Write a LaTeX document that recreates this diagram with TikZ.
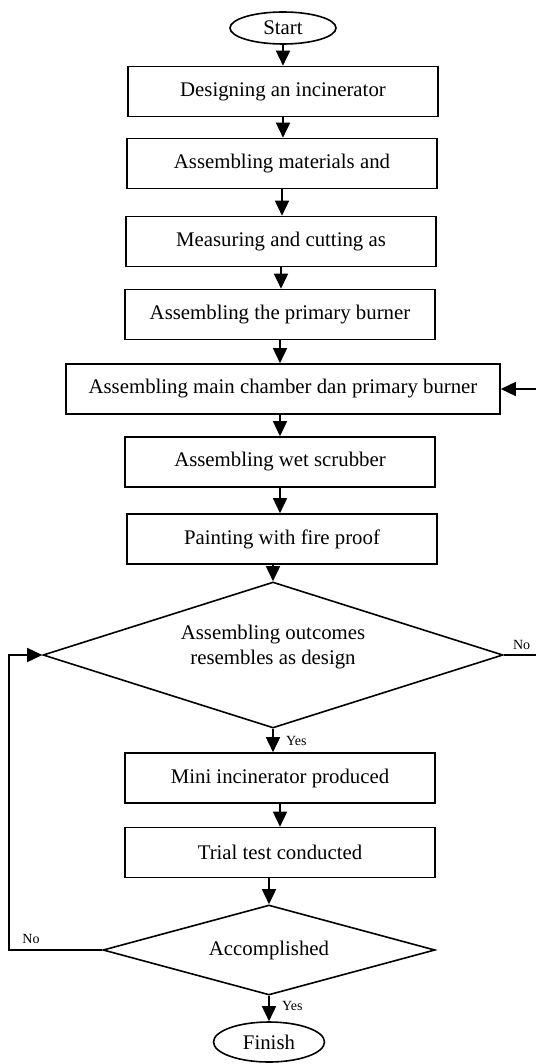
\documentclass[tikz,border=0pt]{standalone}
\usepackage{fontspec}
\setmainfont{Liberation Serif}
\usetikzlibrary{shapes.geometric,arrows.meta}
\begin{document}
\begin{tikzpicture}[x=1pt,y=-1pt,
  txt/.style={font=\fontsize{20.8}{25}\selectfont},
  box/.style={txt,draw,line width=1.6pt,minimum width=310pt,minimum height=50pt,inner sep=0pt},
  term/.style={txt,draw,ellipse,line width=1.6pt,inner sep=0pt},
  dec/.style={draw,diamond,line width=1.6pt,inner sep=0pt},
  arr/.style={line width=1.6pt,-{Triangle[length=15pt,width=14pt]}},
  lab/.style={font=\fontsize{14}{16}\selectfont,inner sep=0pt}]
\useasboundingbox (0,0) rectangle (535,1064);

\node[term,minimum width=106pt,minimum height=32pt] (start) at (283,28) {Start};
\node[box] (b1) at (283,91.5) {Designing an incinerator};
\node[box] (b2) at (282,163.5) {Assembling materials and};
\node[box] (b3) at (281,241.5) {Measuring and cutting as};
\node[box] (b4) at (280,314.5) {Assembling the primary burner};
\node[box,minimum width=434pt] (b5) at (283,389) {Assembling main chamber dan primary burner};
\node[box] (b6) at (280,462) {Assembling wet scrubber};
\node[box] (b7) at (282,539) {Painting with fire proof};
\node[dec,minimum width=460pt,minimum height=146pt,aspect=3.15] (d1) at (273,655) {};
\node[txt,align=center] (d1t) at ([yshift=8pt]d1.center) {Assembling outcomes\\resembles as design};
\node[box] (b8) at (280,778) {Mini incinerator produced};
\node[box] (b9) at (280,852.5) {Trial test conducted};
\node[dec,minimum width=332pt,minimum height=90pt,aspect=3.7] (d2) at (269,950) {};
\node[txt] (d2t) at (d2.center) {Accomplished};
\node[term,minimum width=111pt,minimum height=40pt] (finish) at (269,1042) {Finish};

\draw[arr] (start.south) -- (start.south |- b1.north);
\draw[arr] (b1.south) -- (b1.south |- b2.north);
\draw[arr] (b2.south) -- (b2.south |- b3.north);
\draw[arr] (b3.south) -- (b3.south |- b4.north);
\draw[arr] (b4.south) -- (b4.south |- b5.north);
\draw[arr] (b5.south -| b6.north) -- (b6.north);
\draw[arr] (b6.south) -- (b6.south |- b7.north);
\draw[arr] (d1.north |- b7.south) -- (d1.north);
\draw[arr] (d1.south) -- (d1.south |- b8.north);
\draw[arr] (b8.south) -- (b8.south |- b9.north);
\draw[arr] (d2.north |- b9.south) -- (d2.north);
\draw[arr] (d2.south) -- (finish.north);

\coordinate (c1) at ([xshift=45pt]d1.east);
\draw[arr] (d1.east) -- (c1) |- (b5.east);
\coordinate (c2) at ([xshift=-93pt]d2.west);
\draw[arr] (d2.west) -- (c2) |- (d1.west);

\node[lab,anchor=south west] (no1) at ([xshift=9pt,yshift=5pt]d1.east) {No};
\node[lab,anchor=south west] (no2) at ([xshift=13pt,yshift=6pt]c2) {No};
\node[lab,anchor=west] (yes1) at ([xshift=13pt,yshift=-12pt]d1.south) {Yes};
\node[lab,anchor=west] (yes2) at ([xshift=13pt,yshift=-10pt]d2.south) {Yes};
\end{tikzpicture}
\end{document}
